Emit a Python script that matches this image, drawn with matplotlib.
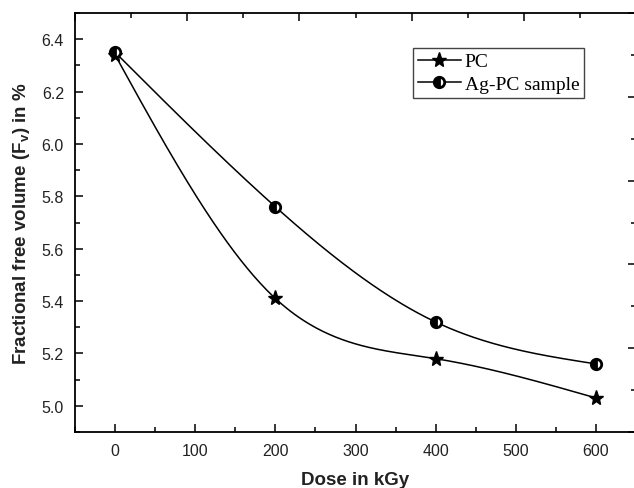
import numpy as np
import matplotlib
matplotlib.use('Agg')
import matplotlib.pyplot as plt
from matplotlib.ticker import MultipleLocator

# 剂量 (kGy) 与自由体积分数 (%)
dose = [0, 200, 400, 600]
fv_pc = [6.34, 5.41, 5.18, 5.03]
fv_agpc = [6.35, 5.76, 5.32, 5.16]
labels = ['PC', 'Ag-PC sample']


def natural_spline(x, y, n=300):
    """自然三次样条，用于平滑连线"""
    x = np.asarray(x, float)
    y = np.asarray(y, float)
    k = len(x) - 1
    h = np.diff(x)
    A = np.zeros((k + 1, k + 1))
    b = np.zeros(k + 1)
    A[0, 0] = A[k, k] = 1
    for i in range(1, k):
        A[i, i - 1] = h[i - 1]
        A[i, i] = 2 * (h[i - 1] + h[i])
        A[i, i + 1] = h[i]
        b[i] = 6 * ((y[i + 1] - y[i]) / h[i] - (y[i] - y[i - 1]) / h[i - 1])
    M = np.linalg.solve(A, b)
    xs = np.linspace(x[0], x[-1], n)
    idx = np.clip(np.searchsorted(x, xs) - 1, 0, k - 1)
    x0, x1 = x[idx], x[idx + 1]
    hh = x1 - x0
    ys = (M[idx] * (x1 - xs) ** 3 / (6 * hh) + M[idx + 1] * (xs - x0) ** 3 / (6 * hh)
          + (y[idx] / hh - M[idx] * hh / 6) * (x1 - xs)
          + (y[idx + 1] / hh - M[idx + 1] * hh / 6) * (xs - x0))
    return xs, ys


fig = plt.figure(figsize=(6.34, 4.89), dpi=100)
pos = [75 / 634, 1 - 433 / 489, 561 / 634, 419 / 489]
ax = fig.add_axes(pos)

star_kw = dict(marker='*', ms=11, color='black')
ball_kw = dict(marker='o', ms=7.5, color='black', fillstyle='left',
               markerfacecoloralt='white', mew=2.0)

xs, ys = natural_spline(dose, fv_pc)
ax.plot(xs, ys, color='black', lw=1.1)
xs, ys = natural_spline(dose, fv_agpc)
ax.plot(xs, ys, color='black', lw=1.1)
ax.plot(dose, fv_pc, ls='none', **star_kw)
ax.plot(dose, fv_agpc, ls='none', **ball_kw)

# 图例句柄
h1, = ax.plot([], [], lw=1.1, **star_kw)
h2, = ax.plot([], [], lw=1.1, **ball_kw)

ax.set_xlim(-50, 650)
ax.set_ylim(4.9, 6.5)
ax.xaxis.set_major_locator(MultipleLocator(100))
ax.xaxis.set_minor_locator(MultipleLocator(50))
ax.yaxis.set_major_locator(MultipleLocator(0.2))
ax.yaxis.set_minor_locator(MultipleLocator(0.1))
ax.tick_params(which='both', direction='in', top=False, right=False, width=1.1)
ax.tick_params(which='major', length=6, labelsize=11.5, pad=8, colors='black')
ax.tick_params(which='minor', length=3.5)
for lab in ax.get_xticklabels() + ax.get_yticklabels():
    lab.set_fontfamily('Liberation Sans')
    lab.set_color('#222222')
for sp in ax.spines.values():
    sp.set_linewidth(1.3)

ax.set_xlabel('Dose in kGy', fontsize=13.5, fontweight='bold',
              family='Liberation Sans', color='#222222', labelpad=9)
ax.set_ylabel('Fractional free volume (F$_\\mathregular{v}$) in %', fontsize=13.5,
              fontweight='bold', family='Liberation Sans', color='#222222', labelpad=7)

# 顶部和右侧的刻度轴
ax2 = fig.add_axes(pos, frameon=False)
ax2.patch.set_visible(False)
ax2.set_xlim(0, 5)
ax2.set_ylim(0, 5)
ax2.xaxis.set_major_locator(MultipleLocator(1))
ax2.xaxis.set_minor_locator(MultipleLocator(0.5))
ax2.yaxis.set_major_locator(MultipleLocator(1))
ax2.yaxis.set_minor_locator(MultipleLocator(0.5))
ax2.tick_params(which='both', direction='in', bottom=False, left=False, top=True, right=True,
                labelbottom=False, labelleft=False, labeltop=False, labelright=False, width=1.1)
ax2.tick_params(which='major', length=6)
ax2.tick_params(which='minor', length=3.5)

leg = ax.legend([h1, h2], labels, loc='upper left', bbox_to_anchor=(0.6025, 0.9165),
                borderaxespad=0, fancybox=False, framealpha=1, edgecolor='#444444',
                prop={'family': 'Liberation Serif', 'size': 14}, handlelength=2.2,
                handletextpad=0.2, labelspacing=0.25, borderpad=0.25)
leg.get_frame().set_linewidth(1.0)

fig.savefig('out.png', dpi=100)
